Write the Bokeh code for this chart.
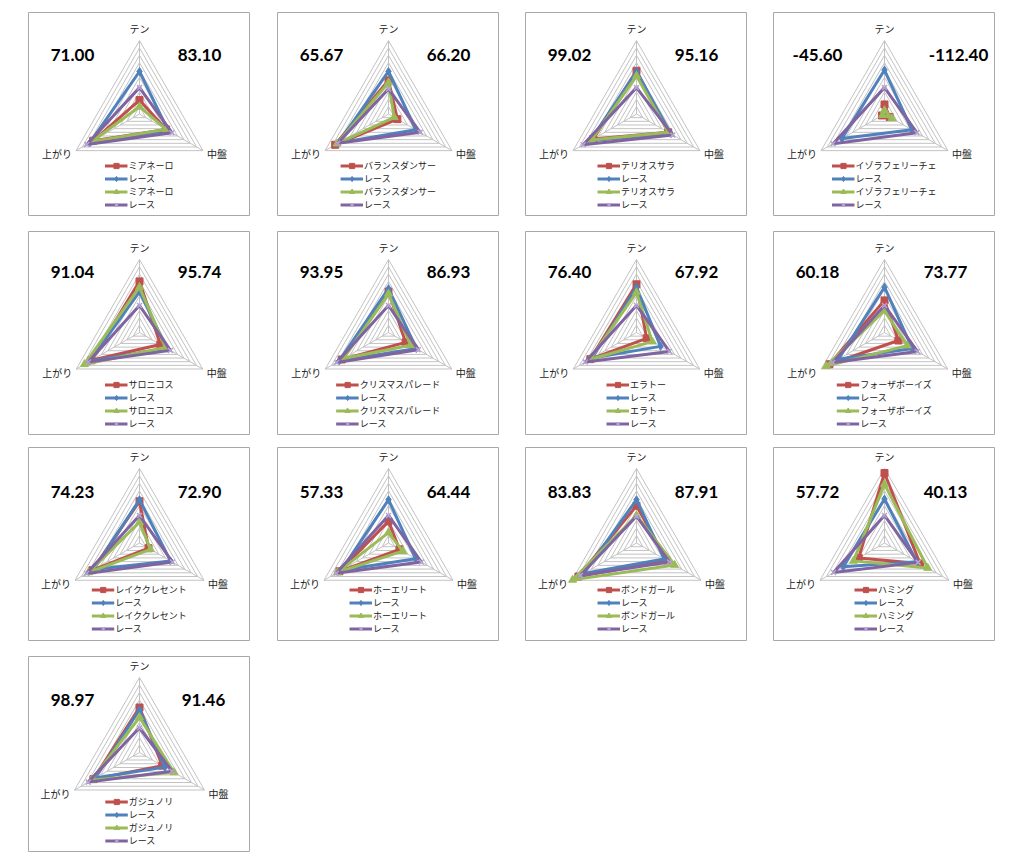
import math
from bokeh.plotting import figure
from bokeh.models import Legend, LegendItem, Range1d, Spacer, Label
from bokeh.layouts import row, column
from bokeh.core.properties import value
from bokeh.embed import file_html
from bokeh.resources import INLINE

# ---------------- data ----------------
AXES = ["テン", "中盤", "上がり"]
RACE = "レース"
HORSES = ["ミアネーロ", "バランスダンサー", "テリオスサラ", "イゾラフェリーチェ",
          "サロニコス", "クリスマスパレード", "エラトー", "フォーザボーイズ",
          "レイククレセント", "ホーエリート", "ボンドガール", "ハミング", "ガジュノリ"]
SCORE_LEFT = ["71.00", "65.67", "99.02", "-45.60", "91.04", "93.95", "76.40", "60.18",
              "74.23", "57.33", "83.83", "57.72", "98.97"]
SCORE_RIGHT = ["83.10", "66.20", "95.16", "-112.40", "95.74", "86.93", "67.92", "73.77",
               "72.90", "64.44", "87.91", "40.13", "91.46"]

# values per axis: [テン, 中盤, 上がり] (0-100)
HORSE_A = [[19, 42, 73], [46, 14, 84], [59, 50, 68], [13, 8, 4], [70, 33, 76], [56, 27, 74],
           [66, 16, 73], [44, 22, 87], [56, 14, 73], [29, 17, 76], [50, 47, 90], [94, 55, 40],
           [60, 35, 71]]
RACE_A = [[58, 45, 78], [58, 43, 79], [58, 54, 73], [60, 43, 67], [56, 43, 79], [60, 44, 78],
          [62, 38, 70], [62, 44, 73], [58, 48, 71], [58, 42, 73], [58, 43, 82], [59, 50, 64],
          [57, 39, 68]]
HORSE_B = [[10, 42, 75], [43, 9, 81], [52, 50, 71], [5, 12, 3], [62, 41, 87], [53, 35, 71],
           [55, 25, 74], [30, 36, 92], [28, 17, 79], [14, 22, 79], [37, 59, 99], [79, 67, 48],
           [47, 53, 74]]
RACE_B = [[36, 51, 83], [34, 50, 80], [36, 57, 84], [36, 51, 81], [37, 49, 81], [37, 47, 82],
          [37, 52, 81], [37, 52, 82], [37, 51, 82], [37, 51, 81], [36, 51, 87], [37, 52, 79],
          [33, 50, 79]]
RINGS = [10, 20, 30, 40, 50, 60, 70, 80, 90, 100]

# ---------------- layout / style ----------------
PANEL_W = 222
ROW_H = [204, 204, 194, 196]
ROW_CY = [101.5, 101.0, 95.5, 96.0]       # distance from panel top to radar centre
ROW_R = [73.3, 73.0, 74.5, 75.0]          # radar radius in px
ROW_LBL_Y = [42.5, 40.5, 44.5, 43.5]      # score labels, from panel top
ROW_LEG_M = [5, 5, 6, 5]
COL_GAPS = [27, 26, 26]
ROW_GAPS = [15, 12, 15]
RIGHT_LBL_X = [171, 171, 171, 185, 171, 171, 171, 172, 171, 171, 171, 172, 175]
LEFT_LBL_X = 44

ANGLES = [math.pi / 2, -math.pi / 6, 7 * math.pi / 6]
JP = "Noto Sans CJK JP"
GRID_C = "#c3c3c3"
SERIES_STYLE = [
    dict(color="#C0504D", marker="square", size=7, mcolor="#C0504D"),
    dict(color="#4F81BD", marker="diamond", size=8, mcolor="#4F81BD"),
    dict(color="#9BBB59", marker="triangle", size=8, mcolor="#9BBB59"),
    dict(color="#8064A2", marker="x", size=7, mcolor="#b4a4cf"),
]


def polar(vals, R, close=True):
    xs = [v / 100.0 * R * math.cos(a) for v, a in zip(vals, ANGLES)]
    ys = [v / 100.0 * R * math.sin(a) for v, a in zip(vals, ANGLES)]
    if close:
        xs, ys = xs + [xs[0]], ys + [ys[0]]
    return xs, ys


def make_panel(i, r):
    H = ROW_H[r]
    cy = ROW_CY[r]
    R = ROW_R[r]
    half = PANEL_W / 2
    p = figure(width=PANEL_W, height=H, x_range=Range1d(-half, half),
               y_range=Range1d(cy - H, cy), x_axis_type=None, y_axis_type=None,
               output_backend="svg", toolbar_location=None, min_border=0,
               outline_line_color="#a8a8a8", outline_line_width=1,
               background_fill_color="white", border_fill_color="white")
    p.grid.visible = False

    # grid rings and spokes
    rx, ry = [], []
    for g in RINGS:
        xs, ys = polar([g, g, g], R)
        rx.append(xs)
        ry.append(ys)
    p.multi_line(rx, ry, line_color=GRID_C, line_width=1)
    sx, sy = [], []
    for a in ANGLES:
        sx.append([0, R * math.cos(a)])
        sy.append([0, R * math.sin(a)])
    p.multi_line(sx, sy, line_color=GRID_C, line_width=1)

    # axis labels
    p.text(x=[0], y=[R + 12], text=[AXES[0]], text_align="center", text_baseline="middle",
           text_font=value(JP), text_font_size="10px", text_color="#222222")
    bx = R * math.cos(ANGLES[1])
    by = R * math.sin(ANGLES[1])
    p.text(x=[bx + 4], y=[by - 3], text=[AXES[1]], text_align="left", text_baseline="middle",
           text_font=value(JP), text_font_size="10px", text_color="#222222")
    p.text(x=[-bx - 4], y=[by - 3], text=[AXES[2]], text_align="right", text_baseline="middle",
           text_font=value(JP), text_font_size="10px", text_color="#222222")

    # series
    series = [(HORSES[i], HORSE_A[i]), (RACE, RACE_A[i]), (HORSES[i], HORSE_B[i]), (RACE, RACE_B[i])]
    items = []
    for (name, vals), st in zip(series, SERIES_STYLE):
        xs, ys = polar(vals, R)
        lr = p.line(xs, ys, line_color=st["color"], line_width=3, line_join="round")
        mx, my = polar(vals, R, close=False)
        if st["marker"] == "x":
            sr = p.scatter(mx, my, marker="x", size=st["size"], line_color=st["mcolor"], line_width=1.5)
        else:
            sr = p.scatter(mx, my, marker=st["marker"], size=st["size"], fill_color=st["mcolor"],
                           line_color=st["mcolor"])
        items.append(LegendItem(label=name, renderers=[lr, sr]))

    legend = Legend(items=items, location="bottom_center", margin=ROW_LEG_M[r], padding=0,
                    spacing=0, label_height=13, glyph_height=13, glyph_width=23,
                    label_standoff=1, label_text_font=JP, label_text_font_size="9px",
                    label_text_line_height=1.3,
                    label_text_color="#222222", border_line_alpha=0,
                    background_fill_alpha=0)
    p.add_layout(legend)

    # score labels
    ly = cy - ROW_LBL_Y[r]
    p.add_layout(Label(x=LEFT_LBL_X - half, y=ly, text=SCORE_LEFT[i], text_align="center",
                       text_baseline="middle", text_font="Lato", text_font_style="bold",
                       text_font_size="17px", text_color="#000000"))
    p.add_layout(Label(x=RIGHT_LBL_X[i] - half, y=ly, text=SCORE_RIGHT[i], text_align="center",
                       text_baseline="middle", text_font="Lato", text_font_style="bold",
                       text_font_size="17px", text_color="#000000"))
    return p


rows = []
idx = 0
for r in range(4):
    children = [Spacer(width=28, height=ROW_H[r])]
    for c in range(4):
        if idx >= len(HORSES):
            break
        if c > 0:
            children.append(Spacer(width=COL_GAPS[c - 1], height=ROW_H[r]))
        children.append(make_panel(idx, r))
        idx += 1
    rows.append(row(children))
    if r < 3:
        rows.append(Spacer(height=ROW_GAPS[r], width=10))

layout = column([Spacer(height=12, width=10)] + rows)

open("out.html", "w").write(file_html(layout, INLINE))
